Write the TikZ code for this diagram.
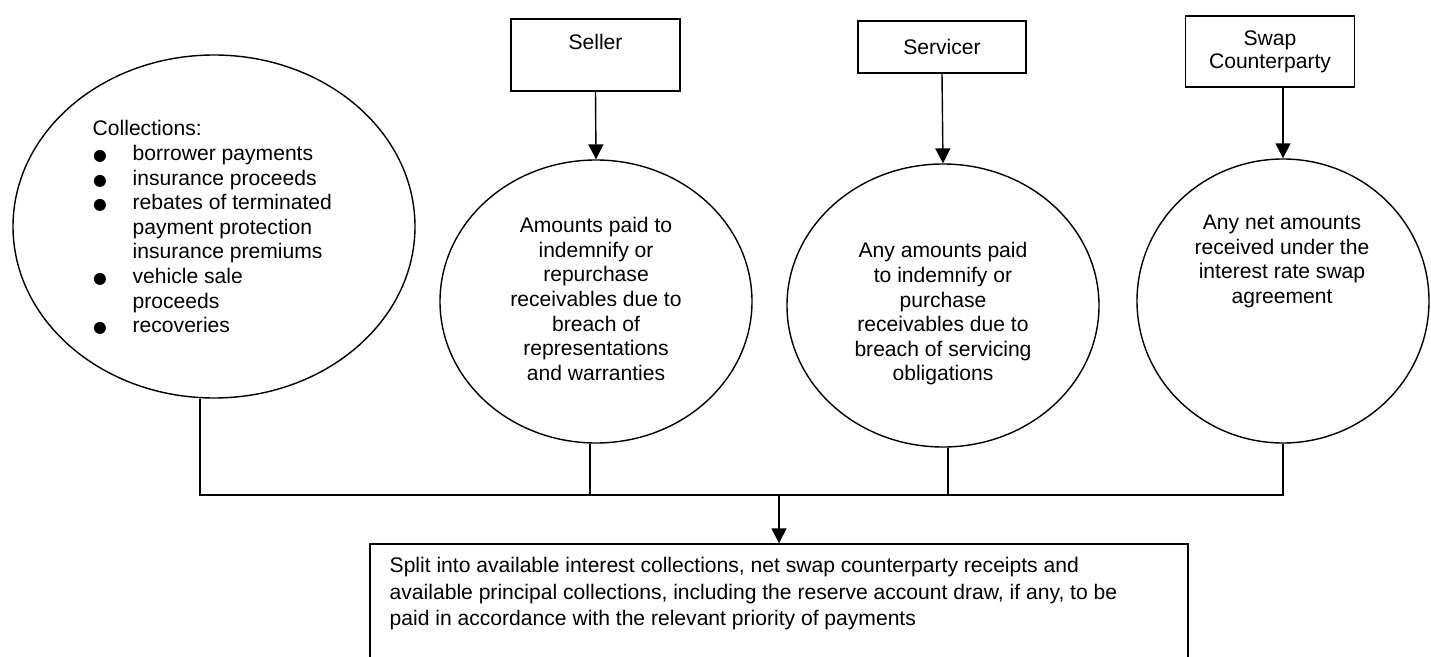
\documentclass[tikz,border=0pt]{standalone}
\usepackage{fontspec}
\setmainfont{Liberation Sans}
\newfontfamily\symfont{DejaVu Sans}
\usetikzlibrary{arrows.meta}
\usetikzlibrary{shapes.geometric}

\newcommand{\itm}{\makebox[0.8cm][l]{\hspace{0.01cm}{\symfont\fontsize{9}{14}\selectfont ●}}}

\begin{document}
\begin{tikzpicture}[
    >={Triangle[length=8.5pt,width=8.5pt]},
    every node/.style={font=\fontsize{12}{14}\selectfont},
    line width=0.8pt,
    party/.style={draw, rectangle, align=center, inner sep=0pt},
    pool/.style={draw, ellipse, inner sep=0pt},
    pooltext/.style={align=center, inner sep=0pt}
]

\useasboundingbox (0,0) rectangle (28.62,-13.14);

% Collections
\node[pool, minimum width=8.04cm, minimum height=6.86cm] (coll) at (4.28,-4.53) {};
\node[align=left, anchor=north west, inner sep=0pt] (colltxt) at (1.84,-2.40)
    {Collections:\\
     \itm borrower payments\\
     \itm insurance proceeds\\
     \itm rebates of terminated\\
     \hspace*{0.8cm}payment protection\\
     \hspace*{0.8cm}insurance premiums\\
     \itm vehicle sale\\
     \hspace*{0.8cm}proceeds\\
     \itm recoveries};

% Parties
\node[party, minimum width=3.38cm, minimum height=1.44cm, text depth=0.53cm] (sell) at (11.91,-1.10) {Seller};
\node[party, minimum width=3.36cm, minimum height=1.04cm] (serv) at (18.84,-0.94) {Servicer};
\node[party, minimum width=3.39cm, minimum height=1.42cm, font=\fontsize{12}{13}\selectfont] (swap) at (25.40,-1.03) {Swap\\Counterparty};

% Pools
\node[pool, minimum width=6.24cm, minimum height=5.66cm] (sellc) at (11.92,-6.03) {};
\node[pool, minimum width=6.24cm, minimum height=5.66cm] (servc) at (18.86,-6.11) {};
\node[pool, minimum width=5.84cm, minimum height=5.68cm] (swapc) at (25.66,-6.02) {};

\node[pooltext] (sellt) at (11.92,-5.98) {Amounts paid to\\indemnify or\\repurchase\\receivables due to\\breach of\\representations\\and warranties};
\node[pooltext] (servt) at (18.86,-6.28) {Any amounts paid\\to indemnify or\\purchase\\receivables due to\\breach of servicing\\obligations};
\node[pooltext] (swapt) at (25.64,-5.23) {Any net amounts\\received under the\\interest rate swap\\agreement};

% Split
\node[draw, rectangle, minimum width=16.36cm, minimum height=2.72cm, inner sep=0pt] (split) at (15.58,-12.24) {};
\node[align=left, anchor=north west, inner sep=0pt, font=\fontsize{12}{15}\selectfont] (splitt) at (7.78,-11.14)
    {Split into available interest collections, net swap counterparty receipts and\\
     available principal collections, including the reserve account draw, if any, to be\\
     paid in accordance with the relevant priority of payments};

\coordinate (busL) at (4.00,-9.90);
\coordinate (busR) at (25.66,-9.90);

\draw[->] (sell.south) -- (sellc.north);
\draw[->] (serv.south) -- (servc.north);
\draw[->] (swapc.north |- swap.south) -- (swapc.north);

\draw (busL |- coll.south) -- (busL) -- (busR) -- (swapc.south);
\draw ([xshift=-0.12cm]sellc.south) -- ([xshift=-0.12cm]sellc.south |- busL);
\draw ([xshift=0.1cm]servc.south) -- ([xshift=0.1cm]servc.south |- busL);
\draw[->] (split.north |- busL) -- (split.north);

\end{tikzpicture}
\end{document}
